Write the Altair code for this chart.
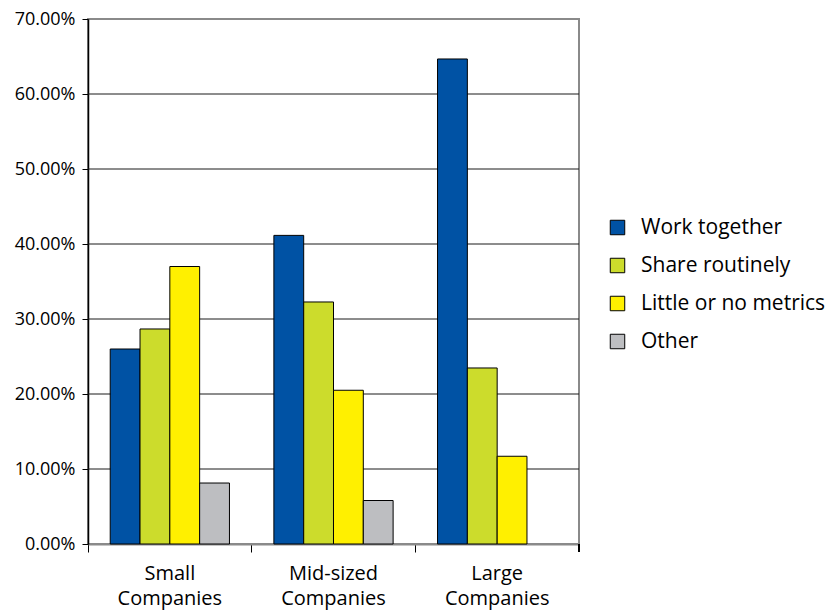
import altair as alt
import pandas as pd

# Survey shares by company size
companies = ["Small\nCompanies", "Mid-sized\nCompanies", "Large\nCompanies"]
series = ["Work together", "Share routinely", "Little or no metrics", "Other"]
work_together = [0.260, 0.4115, 0.6467]
share_routinely = [0.2867, 0.3227, 0.2347]
little_or_no_metrics = [0.370, 0.205, 0.117]
other = [0.0813, 0.058, 0.0]
colors = ["#0052A4", "#CCDC2C", "#FFF000", "#BDBEC1"]
tick_values = [0, 0.1, 0.2, 0.3, 0.4, 0.5, 0.6, 0.7]
grid_values = [0.1, 0.2, 0.3, 0.4, 0.5, 0.6]

rows = []
for s, vals in zip(series, [work_together, share_routinely, little_or_no_metrics, other]):
    for c, v in zip(companies, vals):
        rows.append({"company": c, "series": s, "share": v})
df = pd.DataFrame(rows)
grid_df = pd.DataFrame({"share": grid_values})

FONT = "Open Sans"
W, H = 491, 525

y_scale = alt.Scale(domain=[0, 0.7], nice=False)
y_axis = alt.Axis(
    title=None,
    format=".2%",
    values=tick_values,
    labelFont=FONT,
    labelFontSize=18,
    labelColor="black",
    labelPadding=7,
    tickColor="black",
    tickSize=6,
    domainColor="black",
    domainWidth=1.5,
    grid=False,
)

# horizontal gridlines, kept off the top border
grid = alt.Chart(grid_df).mark_rule(color="#1a1a1a", strokeWidth=1).encode(
    y=alt.Y("share:Q", scale=y_scale, axis=y_axis)
)

bars = alt.Chart(df).transform_filter("datum.share > 0").mark_bar(
    stroke="black", strokeWidth=1
).encode(
    x=alt.X(
        "company:N",
        sort=companies,
        scale=alt.Scale(paddingInner=0, paddingOuter=0),
        axis=alt.Axis(
            title=None,
            labelAngle=0,
            labelExpr="split(datum.label, '\\n')",
            labelFont=FONT,
            labelFontSize=20,
            labelColor="black",
            labelLineHeight=25,
            labelPadding=11,
            bandPosition=0,
            tickColor="black",
            tickSize=8,
            tickWidth=1,
            domainColor="#8a8a8a",
            domainWidth=2,
            grid=False,
        ),
    ),
    xOffset=alt.XOffset(
        "series:N", sort=series, scale=alt.Scale(paddingInner=0, paddingOuter=0.745)
    ),
    y=alt.Y("share:Q", scale=y_scale, axis=y_axis),
    color=alt.Color(
        "series:N",
        sort=series,
        scale=alt.Scale(domain=series, range=colors),
        legend=alt.Legend(
            title=None,
            orient="none",
            legendX=519,
            legendY=198,
            symbolType="square",
            symbolSize=210,
            symbolStrokeColor="black",
            symbolStrokeWidth=1,
            symbolOpacity=1,
            labelFont=FONT,
            labelFontSize=21,
            labelColor="black",
            labelOffset=13,
            rowPadding=16,
            labelLimit=300,
        ),
    ),
)

# closing tick at the right end of the category axis
end_tick = alt.Chart(df).mark_rule(color="black", strokeWidth=1).encode(
    x=alt.value(W), y=alt.value(H), y2=alt.value(H + 8)
)

chart = (
    alt.layer(grid, bars, end_tick)
    .properties(
        width=W,
        height=H,
        autosize=alt.AutoSizeParams(type="none"),
        padding={"left": 88, "top": 19, "right": 251, "bottom": 69},
        background="white",
    )
    .configure_view(stroke="#8a8a8a", strokeWidth=2)
)

chart.save("out.html", embed_options={"renderer": "svg", "actions": False})
